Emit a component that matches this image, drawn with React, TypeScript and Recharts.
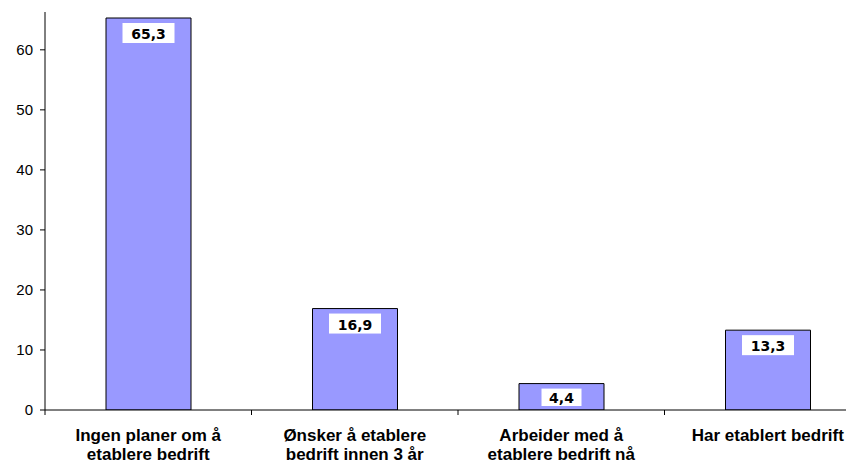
import { BarChart, Bar, XAxis, YAxis, LabelList } from 'recharts'

const categories = [
    'Ingen planer om å\netablere bedrift',
    'Ønsker å etablere\nbedrift innen 3 år',
    'Arbeider med å\netablere bedrift nå',
    'Har etablert bedrift',
]
const values = [65.3, 16.9, 4.4, 13.3]
const yTicks = [0, 10, 20, 30, 40, 50, 60]

const data = categories.map((name, i) => ({ name, value: values[i] }))

const CHART_W = 880
const CHART_H = 463
const Y_W = 45
const RIGHT = 9
const band = (CHART_W - Y_W - RIGHT) / categories.length

function CategoryTick(props: any) {
    const { x, y, payload } = props
    const lines = String(payload.value).split('\n')
    const axisY = y - 5
    const bx = x - band / 2
    return (
        <g>
            <line x1={bx} y1={axisY} x2={bx} y2={axisY + 5} stroke="#000" />
            <text
                x={x}
                y={y}
                textAnchor="middle"
                fontFamily="'Liberation Sans', Arial, sans-serif"
                fontWeight="bold"
                fontSize={17}
                fill="#000"
            >
                {lines.map((l, i) => (
                    <tspan key={i} x={x} dy={i === 0 ? 26 : 19}>
                        {l}
                    </tspan>
                ))}
            </text>
        </g>
    )
}

function ValueBox(props: any) {
    const { x, y, width, height, value } = props
    const label = Number(value).toFixed(1).replace('.', ',')
    const w = label.length * 12 + 4
    const h = Math.min(20, height - 9)
    const cx = x + width / 2
    const top = y + 5
    return (
        <g>
            <rect x={cx - w / 2} y={top} width={w} height={h} fill="#fff" />
            <text
                x={cx}
                y={top + h / 2 + 1}
                textAnchor="middle"
                dominantBaseline="central"
                fontFamily="'DejaVu Sans', Verdana, sans-serif"
                fontWeight="bold"
                fontSize={14}
                fill="#000"
            >
                {label}
            </text>
        </g>
    )
}

export default function App() {
    return (
        <div
            style={{
                position: 'absolute',
                left: 0,
                top: 0,
                width: 846,
                height: 463,
                overflow: 'hidden',
                background: '#fff',
            }}
        >
            <BarChart
                width={CHART_W}
                height={CHART_H}
                data={data}
                margin={{ top: 12, right: RIGHT, bottom: 0, left: 0 }}
                barCategoryGap={0}
            >
                <XAxis
                    dataKey="name"
                    interval={0}
                    height={53}
                    tickLine={false}
                    tickSize={5}
                    tickMargin={0}
                    axisLine={{ stroke: '#000' }}
                    tick={<CategoryTick />}
                />
                <YAxis
                    width={Y_W}
                    domain={[0, 66.3]}
                    ticks={yTicks}
                    interval={0}
                    tickSize={5}
                    tickMargin={7}
                    axisLine={{ stroke: '#000' }}
                    tickLine={{ stroke: '#000' }}
                    tick={{ fill: '#000', fontSize: 15, fontFamily: "'Liberation Sans', Arial, sans-serif" }}
                    allowDataOverflow
                />
                <Bar
                    dataKey="value"
                    fill="#9999FF"
                    stroke="#000"
                    strokeWidth={1}
                    barSize={85}
                    isAnimationActive={false}
                >
                    <LabelList dataKey="value" content={<ValueBox />} />
                </Bar>
            </BarChart>
        </div>
    )
}
